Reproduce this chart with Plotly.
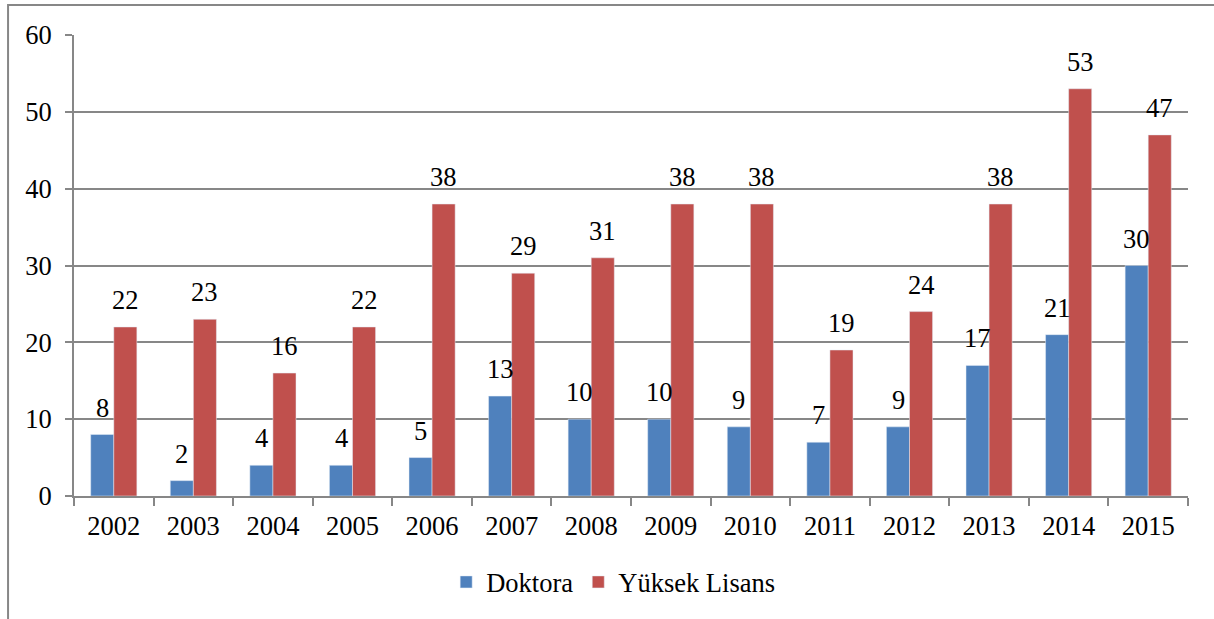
import plotly.graph_objects as go

years = ["2002", "2003", "2004", "2005", "2006", "2007", "2008", "2009", "2010", "2011", "2012", "2013", "2014", "2015"]
doktora = [8, 2, 4, 4, 5, 13, 10, 10, 9, 7, 9, 17, 21, 30]
yuksek_lisans = [22, 23, 16, 22, 38, 29, 31, 38, 38, 19, 24, 38, 53, 47]
y_ticks = [0, 10, 20, 30, 40, 50, 60]

FONT = "Times New Roman"
FS = 26.5
BLUE = "#4F81BD"
RED = "#C0504D"
GRID = "#878787"

fig = go.Figure()
fig.add_trace(go.Bar(x=years, y=doktora, name="Doktora", marker_color=BLUE))
fig.add_trace(go.Bar(x=years, y=yuksek_lisans, name="Yüksek Lisans", marker_color=RED))

# value labels: category axis positions by index (years look numeric)
for vals, shift in ((doktora, -11.5), (yuksek_lisans, 11.5)):
    for i, v in enumerate(vals):
        fig.add_annotation(x=i, y=v, text=str(v), showarrow=False, xshift=shift, yshift=10,
                           yanchor="bottom", font=dict(family=FONT, size=FS, color="black"))

fig.update_layout(
    width=1214, height=619,
    margin=dict(l=74, r=26, t=35, b=123),
    paper_bgcolor="white", plot_bgcolor="white",
    barmode="group", bargap=0.42, bargroupgap=0,
    font=dict(family=FONT, size=FS, color="black"),
    legend=dict(orientation="h", x=0.484, xanchor="center", y=-0.187, yanchor="middle",
                font=dict(family=FONT, size=FS, color="black"), traceorder="normal"),
    xaxis=dict(type="category", showline=True, linecolor=GRID, linewidth=2, ticks="outside",
               tickson="boundaries", ticklen=8, tickcolor=GRID, tickwidth=2, showgrid=False,
               ticklabelstandoff=5, tickangle=0, range=[-0.5, 13.5]),
    yaxis=dict(range=[0, 60], tickvals=y_ticks, showline=True, linecolor=GRID, linewidth=2,
               ticks="outside", ticklen=7, tickcolor=GRID, tickwidth=2,
               showgrid=True, gridcolor=GRID, gridwidth=2, zeroline=False,
               ticklabelstandoff=8),
    shapes=[dict(type="rect", xref="paper", yref="paper", x0=-0.0592, x1=1.2, y0=-0.5, y1=1.065,
                 line=dict(color=GRID, width=2), fillcolor="rgba(0,0,0,0)", layer="below")],
)

fig.write_html("out.html", config={"displayModeBar": False},
               post_script="document.body.style.margin='0';document.body.style.overflow='hidden';")
